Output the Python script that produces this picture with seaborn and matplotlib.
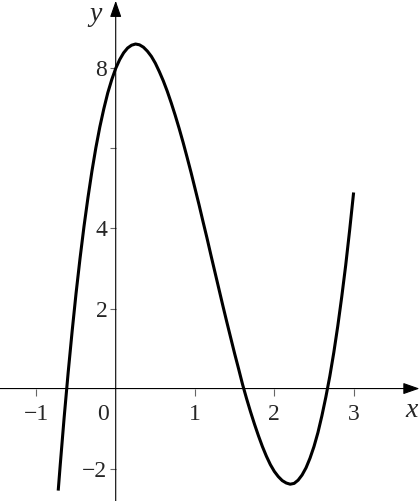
import matplotlib
matplotlib.use("Agg")
import matplotlib.pyplot as plt
import seaborn as sns

# curve
x_vals = [-0.725, -0.7, -0.65, -0.6, -0.55, -0.5, -0.45, -0.4, -0.35, -0.3, -0.25,
          -0.2, -0.15, -0.1, -0.05, 0.0, 0.05, 0.1, 0.15, 0.2, 0.25, 0.3, 0.35,
          0.4, 0.45, 0.5, 0.55, 0.6, 0.65, 0.7, 0.75, 0.8, 0.85, 0.9, 0.95,
          1.0, 1.05, 1.1, 1.15, 1.2, 1.25, 1.3, 1.35, 1.4, 1.45, 1.5, 1.55,
          1.6, 1.65, 1.7, 1.75, 1.8, 1.85, 1.9, 1.95, 2.0, 2.05, 2.1, 2.15,
          2.2, 2.25, 2.3, 2.35, 2.4, 2.45, 2.5, 2.55, 2.6, 2.65, 2.7, 2.75,
          2.8, 2.85, 2.9, 2.95, 3.0]
y_vals = [-2.55, -1.92, -0.72, 0.39, 1.42, 2.38, 3.25, 4.05, 4.77, 5.43, 6.02,
          6.54, 6.99, 7.39, 7.72, 8.0, 8.22, 8.39, 8.51, 8.58, 8.61, 8.59, 8.53,
          8.43, 8.30, 8.13, 7.92, 7.69, 7.43, 7.14, 6.83, 6.50, 6.15, 5.78, 5.40,
          5.0, 4.60, 4.18, 3.77, 3.34, 2.92, 2.50, 2.08, 1.67, 1.27, 0.87, 0.49,
          0.10, -0.25, -0.58, -0.89, -1.18, -1.45, -1.69, -1.90, -2.07, -2.20, -2.30, -2.36,
          -2.39, -2.37, -2.29, -2.16, -1.98, -1.74, -1.45, -1.10, -0.68, -0.21, 0.31, 0.90,
          1.56, 2.29, 3.08, 3.96, 4.9]

x_ticks = [-1, 1, 2, 3]
x_labels = ["\u22121", "1", "2", "3"]
y_ticks = [-2, 2, 4, 6, 8]
y_labels = ["\u22122", "2", "4", "", "8"]

sns.set_style("white")
plt.rcParams["font.family"] = ["Liberation Serif", "DejaVu Serif"]

fig = plt.figure(figsize=(4.2, 5.01), dpi=100)
ax = fig.add_axes([0, 0, 1, 1])

sns.lineplot(x=x_vals, y=y_vals, color="black", linewidth=2.2, sort=False,
             estimator=None, ax=ax, solid_joinstyle="round", solid_capstyle="butt")

xmin, xmax = -1.459, 3.837
ymin, ymax = -2.81, 9.71
ax.set_xlim(xmin, xmax)
ax.set_ylim(ymin, ymax)

for s in ax.spines.values():
    s.set_visible(False)
ax.spines["left"].set_position(("data", 0))
ax.spines["bottom"].set_position(("data", 0))

# axes with arrow heads
arrow = dict(arrowstyle="-|>,head_length=10,head_width=3.5", mutation_scale=1,
             color="black", lw=0.8, shrinkA=0, shrinkB=0)
ax.annotate("", xy=(3.83, 0), xytext=(xmin, 0), arrowprops=arrow)
ax.annotate("", xy=(0, 9.69), xytext=(0, ymin), arrowprops=arrow)

ax.set_xticks(x_ticks, x_labels)
ax.set_yticks(y_ticks, y_labels)
ax.tick_params(axis="x", direction="out", length=5, width=0.8, color="0.4",
               pad=6, labelsize=17, bottom=True)
ax.tick_params(axis="y", direction="out", length=4, width=0.8, color="0.4",
               pad=2, labelsize=17, left=True)

ax.text(-0.164, -0.66, "0", fontsize=17, ha="center", va="center")
ax.text(3.73, -0.54, "x", fontsize=20, style="italic", ha="center", va="center")
ax.text(-0.26, 9.36, "y", fontsize=20, style="italic", ha="center", va="center")

fig.savefig("out.png", dpi=100)
